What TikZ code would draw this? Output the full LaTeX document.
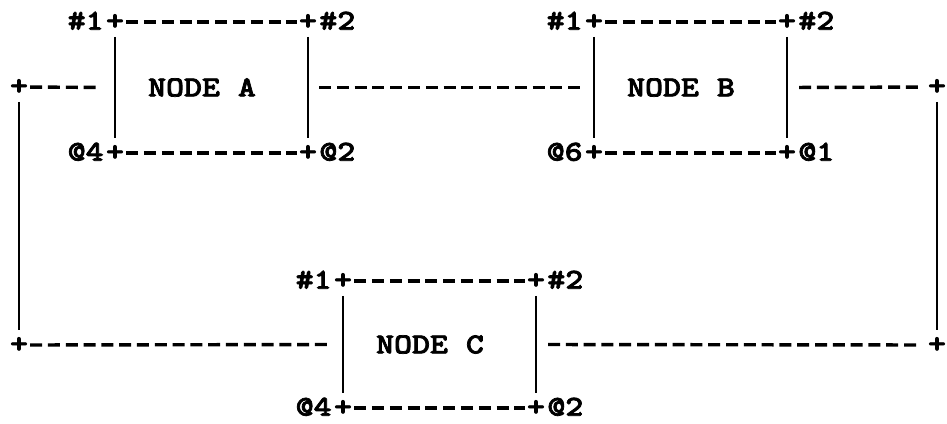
\documentclass[tikz,border=0pt]{standalone}
\usepackage{fontspec}
\usetikzlibrary{positioning}

\newfontfamily\ttybold{lmmonolt10-bold.otf}[FakeStretch=1.18, FakeBold=2.5]

\begin{document}
\begin{tikzpicture}[x=1pt, y=-1pt,
  every node/.style={font=\ttybold\fontsize{29}{30}\selectfont, inner sep=0pt},
  corner/.style={inner sep=2pt},
  side/.style={line width=2.8pt, shorten <=5pt, shorten >=5pt},
  wire/.style={line width=3.4pt, dash pattern=on 12pt off 5.8pt}]
  \useasboundingbox (0,0) rectangle (947,423);

  % the three boxes with their ports
  \foreach \n/\t/\x/\y/\h/\p/\q in {a/A/115/22/131/4/2, b/B/594/22/131/6/1, c/C/343/281/127/4/2} {
    \node[corner] (\n1) at (\x,\y) {+};
    \node[corner] (\n2) at (\x+193,\y) {+};
    \node[corner] (\n3) at (\x,\y+\h) {+};
    \node[corner] (\n4) at (\x+193,\y+\h) {+};
    \node[base left=0pt of \n1] (\n1l) {\#1};
    \node[base right=0pt of \n2] (\n2l) {\#2};
    \node[base left=0pt of \n3] (\n3l) {@\p};
    \node[base right=0pt of \n4] (\n4l) {@\q};
    \node (\n) at (\x+87,\y+\h/2) {NODE \t};
    \draw[wire] (\n1) -- (\n2);
    \draw[wire] (\n3) -- (\n4);
    \draw[side] (\n1) -- (\n3);
    \draw[side] (\n2) -- (\n4);
  }

  % outer loop
  \node[corner] (l1) at (19,87) {+};
  \node[corner] (l2) at (19,345) {+};
  \node[corner] (r1) at (937,87) {+};
  \node[corner] (r2) at (937,345) {+};
  \draw[side] (l1) -- (l2);
  \draw[side] (r1) -- (r2);
  \draw[wire, shorten >=15pt] (l1) -- (a1 |- a);
  \draw[wire, shorten <=11pt, shorten >=11pt] (a2 |- a) -- (b1 |- b);
  \draw[wire, shorten <=12pt, shorten >=3pt] (b2 |- b) -- (r1);
  \draw[wire, shorten >=11pt] (l2) -- (c1 |- c);
  \draw[wire, shorten <=12pt, shorten >=5pt] (c2 |- c) -- (r2);
\end{tikzpicture}
\end{document}
